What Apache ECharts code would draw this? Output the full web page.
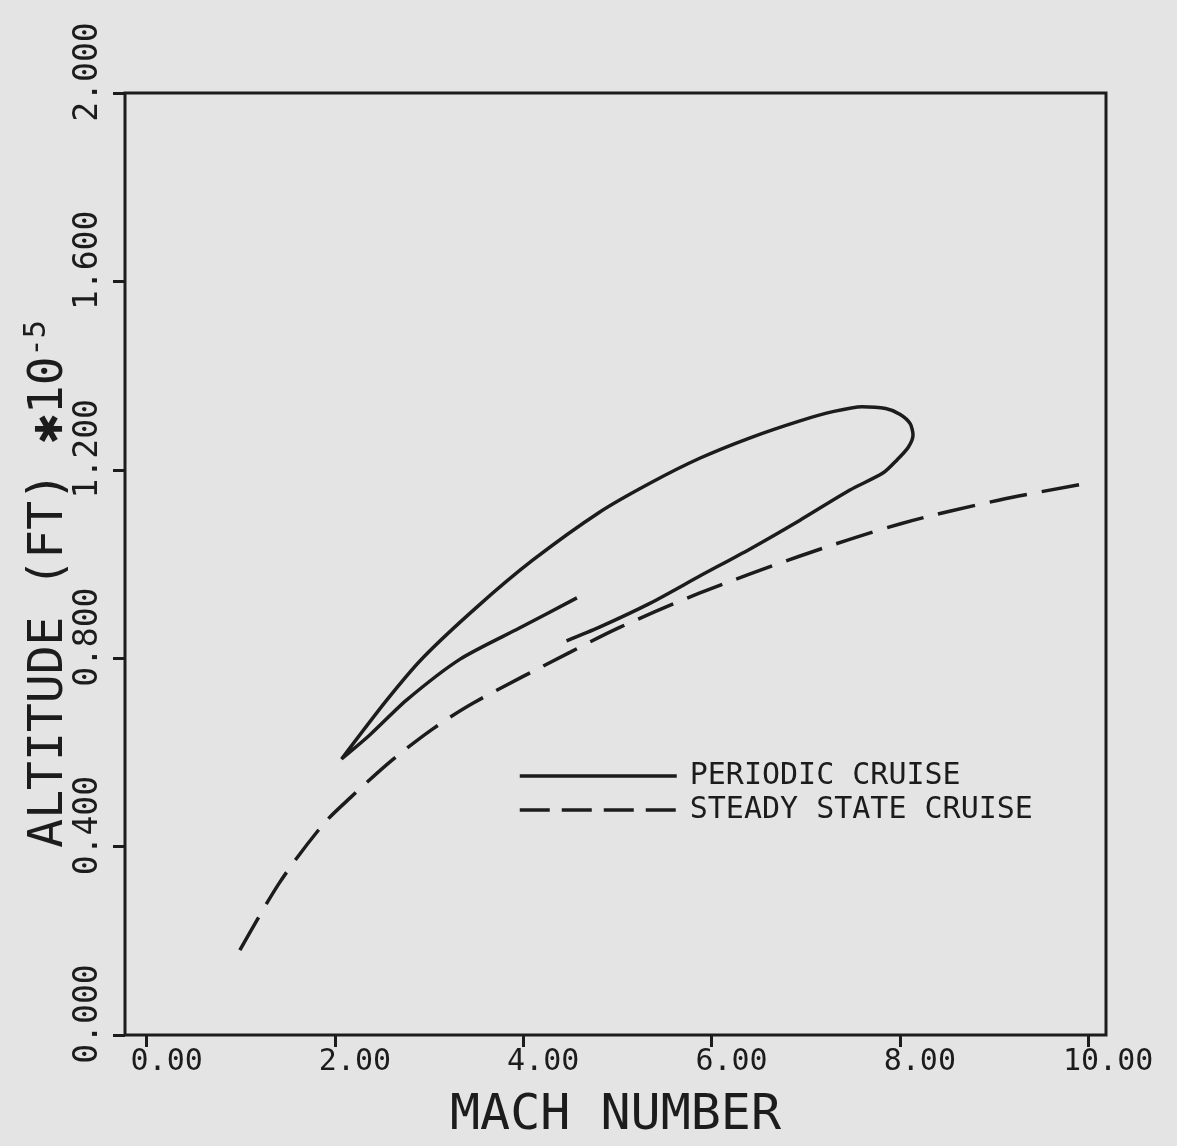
<!DOCTYPE html>
<html><head><meta charset="utf-8">
<script src="https://cdn.jsdelivr.net/npm/echarts@6.0.0/dist/echarts.min.js"></script>
<style>html,body{margin:0;padding:0;background:#e4e4e4;}#c{width:1177px;height:1146px;}</style>
</head><body><div id="c"></div>
<script>
const xTicks = [0, 2, 4, 6, 8, 10];
const yTicks = [0, 0.4, 0.8, 1.2, 1.6, 2.0];
const steadyMach = [0.99, 1.41, 1.87, 2.17, 2.61, 3.04, 3.47, 4.50, 5.03, 5.87, 6.94, 8.00, 9.06, 10.01];
const steadyAlt  = [0.180, 0.323, 0.446, 0.505, 0.584, 0.650, 0.705, 0.813, 0.866, 0.938, 1.017, 1.085, 1.136, 1.172];
const periodicMach = [4.57, 3.96, 3.33, 2.76, 2.37, 2.07, 2.55, 2.93, 3.51, 4.10, 4.81, 5.35, 5.88, 6.41, 6.94, 7.30, 7.60, 7.85, 8.00, 8.11, 8.14, 8.09, 7.97, 7.82, 7.47, 6.94, 6.41, 5.88, 5.35, 4.81, 4.46];
const periodicAlt  = [0.928, 0.864, 0.798, 0.711, 0.637, 0.586, 0.711, 0.800, 0.909, 1.008, 1.110, 1.172, 1.225, 1.268, 1.304, 1.324, 1.334, 1.330, 1.318, 1.298, 1.274, 1.248, 1.221, 1.193, 1.157, 1.093, 1.032, 0.975, 0.917, 0.866, 0.837];
const seriesNames = ['PERIODIC CRUISE', 'STEADY STATE CRUISE'];

const INK = '#1c1c1c';
const FONT = '"DejaVu Sans Mono", "Liberation Mono", monospace';
const zip = (a, b) => a.map((v, i) => [v, b[i]]);

const chart = echarts.init(document.getElementById('c'), null, {renderer: 'canvas'});
chart.setOption({
  backgroundColor: '#e4e4e4',
  animation: false,
  grid: {left: 125, top: 93, right: 71, bottom: 111, show: true, borderColor: INK, borderWidth: 3, backgroundColor: 'transparent'},
  xAxis: {
    type: 'value', min: -0.23, max: 10.19,
    name: 'MACH NUMBER', nameLocation: 'middle', nameGap: 56,
    nameTextStyle: {fontFamily: FONT, fontSize: 50, color: INK},
    axisLine: {show: false, onZero: false},
    splitLine: {show: false},
    axisTick: {show: true, customValues: xTicks, length: 12, lineStyle: {color: INK, width: 3}},
    axisLabel: {customValues: xTicks, formatter: v => v.toFixed(2), fontFamily: FONT, fontSize: 30, color: INK, margin: 12, padding: [0, 0, 0, 40]}
  },
  yAxis: {
    type: 'value', min: 0, max: 2, interval: 0.4,
    axisLine: {show: false, onZero: false},
    splitLine: {show: false},
    axisTick: {show: true, length: 12, lineStyle: {color: INK, width: 3}},
    axisLabel: {rotate: 90, formatter: v => v.toFixed(3), fontFamily: FONT, fontSize: 33, color: INK, margin: 20, align: 'center', verticalAlign: 'bottom', padding: [0, 0, 0, 42]}
  },
  legend: {
    orient: 'vertical', left: 518, top: 761, itemWidth: 157, itemHeight: 22, itemGap: 4, padding: 0,
    data: [
      {name: seriesNames[0], lineStyle: {width: 3.5, type: 'solid'}},
      {name: seriesNames[1], lineStyle: {width: 3.5, type: [30, 12]}}
    ],
    itemStyle: {opacity: 0},
    textStyle: {fontFamily: FONT, fontSize: 30, color: INK, padding: [0, 0, 0, 8]}
  },
  graphic: [{
    type: 'text', x: 50, y: 584, rotation: Math.PI / 2,
    style: {
      text: '{m|ALTITUDE (FT) \u273110}{s|-5}',
      align: 'center', verticalAlign: 'middle',
      rich: {
        m: {fontFamily: FONT, fontSize: 48, fill: INK, color: INK},
        s: {fontFamily: FONT, fontSize: 30, fill: INK, color: INK, padding: [0, 0, 26, 0]}
      }
    }
  }],
  series: [
    {name: seriesNames[0], type: 'line', data: zip(periodicMach, periodicAlt), symbol: 'none', smooth: 0.25,
     lineStyle: {color: INK, width: 3.5}, itemStyle: {color: INK}},
    {name: seriesNames[1], type: 'line', data: zip(steadyMach, steadyAlt), symbol: 'none', smooth: 0.3,
     lineStyle: {color: INK, width: 3.5, type: [38, 15]}, itemStyle: {color: INK}}
  ]
});
</script></body></html>
